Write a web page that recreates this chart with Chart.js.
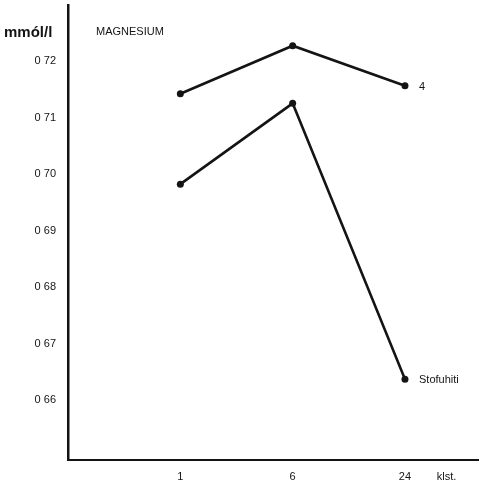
<!DOCTYPE html>
<html>
<head>
<meta charset="utf-8">
<script src="https://cdn.jsdelivr.net/npm/chart.js@4"></script>
<style>
  body { margin: 0; background: #fff; }
  #wrap { width: 482px; height: 484px; }
</style>
</head>
<body>
<div id="wrap"><canvas id="chart" width="482" height="484"></canvas></div>
<script>
// x positions are the category slots 1..3, klst. is the unit label
const xTicks = [1, 2, 3, 3.37];
const xLabels = ["1", "6", "24", "klst."];
const yTicks = [0.66, 0.67, 0.68, 0.69, 0.70, 0.71, 0.72];
const yLabels = ["0 66", "0 67", "0 68", "0 69", "0 70", "0 71", "0 72"];

const seriesNames = ["4", "Stofuhiti"];
const series4 = [0.7142, 0.7227, 0.7156];
const seriesStofuhiti = [0.6982, 0.7125, 0.6637];

const INK = '#141414';
const FONT = '"Liberation Sans", Arial, sans-serif';

function toPoints(vals) {
  return vals.map((v, i) => ({ x: xTicks[i], y: v }));
}

// draws the titles and the series names next to the last point
const labelsPlugin = {
  id: 'labels',
  afterDatasetsDraw(chart) {
    const ctx = chart.ctx;
    ctx.save();
    ctx.fillStyle = INK;
    ctx.textBaseline = 'middle';
    ctx.font = 'bold 15px ' + FONT;
    ctx.fillText('mmól/l', 4, 33);
    ctx.font = '11px ' + FONT;
    ctx.fillText('MAGNESIUM', 96, 32);
    chart.data.datasets.forEach((ds, i) => {
      const meta = chart.getDatasetMeta(i);
      const last = meta.data[meta.data.length - 1];
      ctx.fillText(ds.label, last.x + 14, last.y + 1);
    });
    ctx.restore();
  }
};

const ctx = document.getElementById('chart').getContext('2d');
new Chart(ctx, {
  type: 'line',
  data: {
    datasets: [
      { label: seriesNames[0], data: toPoints(series4) },
      { label: seriesNames[1], data: toPoints(seriesStofuhiti) }
    ].map(d => Object.assign(d, {
      borderColor: INK,
      backgroundColor: INK,
      borderWidth: 2.6,
      pointRadius: 3.5,
      pointBackgroundColor: INK,
      pointBorderWidth: 0,
      tension: 0
    }))
  },
  options: {
    responsive: false,
    animation: false,
    layout: { padding: { top: 5, right: 0, left: 0, bottom: 0 } },
    plugins: { legend: { display: false }, tooltip: { enabled: false } },
    scales: {
      x: {
        type: 'linear',
        min: 0,
        max: 3.65,
        afterBuildTicks: s => { s.ticks = xTicks.map(v => ({ value: v })); },
        afterFit: s => { s.height = 24; s.paddingLeft = 0; s.paddingRight = 0; },
        grid: { display: false, drawTicks: false },
        border: { color: INK, width: 2 },
        ticks: {
          padding: 10,
          color: INK,
          font: { family: FONT, size: 11 },
          callback: (v, i) => xLabels[i]
        }
      },
      y: {
        min: 0.6494,
        max: 0.7299,
        afterBuildTicks: s => { s.ticks = yTicks.map(v => ({ value: v })); },
        afterFit: s => { s.width = 68; s.paddingTop = 0; s.paddingBottom = 0; },
        grid: { display: false, drawTicks: false },
        border: { color: INK, width: 2.5 },
        ticks: {
          padding: 12,
          color: INK,
          font: { family: FONT, size: 11 },
          callback: (v, i) => yLabels[i]
        }
      }
    }
  },
  plugins: [labelsPlugin]
});
</script>
</body>
</html>
